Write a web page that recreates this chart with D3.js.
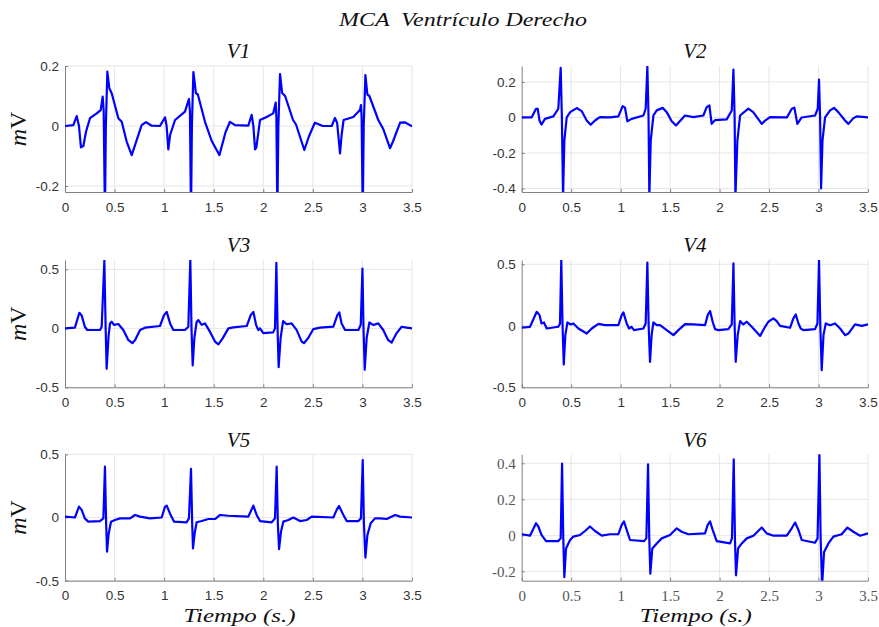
<!DOCTYPE html>
<html>
<head>
<meta charset="utf-8">
<script src="https://cdn.jsdelivr.net/npm/d3@7"></script>
<style>
  html, body { margin: 0; padding: 0; background: #fff; }
  svg { display: block; }
  .axis .tick text { font-family: "Liberation Sans", Arial, sans-serif; font-size: 13.5px; fill: #333; }
  .axis.serif .tick text { font-family: "Liberation Serif", serif; font-size: 15px; fill: #555; }
  .axis path, .axis line { stroke: #808080; }
  .ttl { font-family: "Liberation Serif", serif; font-style: italic; font-weight: normal; fill: #111; white-space: pre; }
</style>
</head>
<body>
<svg id="chart"></svg>
<script>
// ECG leads, [tiempo (s), mV]
const LEADS = ["V1", "V2", "V3", "V4", "V5", "V6"];

const v1 = [[0,0],[0.084,0.003],[0.118,0.033],[0.141,0],[0.161,-0.071],[0.185,-0.067],[0.212,-0.019],[0.252,0.026],[0.32,0.042],[0.36,0.053],[0.38,0.098],[0.39,0.05],[0.403,-0.3],[0.412,0],[0.427,0.181],[0.447,0.126],[0.471,0.109],[0.538,0.026],[0.572,0.014],[0.622,-0.052],[0.673,-0.097],[0.723,-0.047],[0.773,0.003],[0.817,0.013],[0.874,0.001],[0.958,0],[1.009,0.029],[1.025,0],[1.042,-0.078],[1.06,-0.03],[1.11,0.02],[1.21,0.048],[1.25,0.09],[1.26,0.05],[1.271,-0.3],[1.28,0],[1.295,0.18],[1.32,0.11],[1.34,0.105],[1.412,0.014],[1.48,-0.05],[1.557,-0.097],[1.62,-0.02],[1.664,0.014],[1.715,0.003],[1.849,0.001],[1.883,0.037],[1.9,0],[1.917,-0.078],[1.93,-0.072],[1.967,0.02],[2.034,0.03],[2.1,0.042],[2.125,0.078],[2.132,0.03],[2.142,-0.3],[2.152,0],[2.169,0.173],[2.19,0.11],[2.22,0.1],[2.3,0.02],[2.33,0.005],[2.414,-0.08],[2.46,-0.035],[2.52,0.011],[2.6,0],[2.69,0],[2.723,0.027],[2.745,0.01],[2.774,-0.091],[2.79,-0.03],[2.81,0.02],[2.908,0.03],[2.975,0.053],[2.985,0.07],[2.992,0.03],[3.003,-0.3],[3.013,0],[3.03,0.17],[3.05,0.105],[3.07,0.1],[3.16,0.02],[3.21,-0.01],[3.278,-0.074],[3.31,-0.05],[3.38,0.011],[3.43,0.012],[3.5,-0.001]];

const v2 = [[0,0],[0.1,0],[0.145,0.049],[0.162,0.048],[0.18,-0.017],[0.2,-0.04],[0.235,-0.008],[0.32,0.006],[0.37,0.049],[0.394,0.28],[0.406,0],[0.418,-0.45],[0.431,-0.13],[0.455,0],[0.49,0.03],[0.556,0.053],[0.606,0.036],[0.657,-0.017],[0.697,-0.041],[0.741,-0.017],[0.79,0.002],[0.893,0],[0.977,0.006],[1.02,0.064],[1.044,0.055],[1.068,-0.021],[1.112,-0.008],[1.23,0.011],[1.253,0.049],[1.27,0.289],[1.282,0],[1.29,-0.45],[1.304,-0.13],[1.331,0.011],[1.365,0.04],[1.425,0.054],[1.466,0.03],[1.516,-0.021],[1.56,-0.045],[1.6,-0.02],[1.651,0.011],[1.735,0.002],[1.836,0.011],[1.87,0.058],[1.897,0.068],[1.92,-0.036],[1.954,-0.015],[2.072,-0.011],[2.123,0.039],[2.14,0.27],[2.152,0],[2.16,-0.45],[2.18,-0.13],[2.207,0.011],[2.29,0.05],[2.34,0.03],[2.426,-0.036],[2.46,-0.018],[2.51,0.002],[2.68,0],[2.73,0.049],[2.756,0.055],[2.786,-0.036],[2.83,0],[2.965,0.011],[2.992,0.049],[3.005,0.214],[3.016,0],[3.026,-0.4],[3.04,-0.13],[3.066,0],[3.117,0.04],[3.157,0.054],[3.2,0.03],[3.268,-0.017],[3.302,-0.036],[3.35,-0.005],[3.386,0.006],[3.5,0]];

const v3 = [[0,0],[0.1,0.006],[0.145,0.132],[0.168,0.11],[0.2,0.014],[0.225,-0.014],[0.27,-0.014],[0.353,-0.014],[0.37,0.014],[0.397,0.576],[0.41,0],[0.42,-0.343],[0.44,-0.06],[0.454,0.042],[0.47,0.056],[0.494,0.03],[0.538,0.037],[0.588,-0.014],[0.64,-0.1],[0.68,-0.126],[0.706,-0.1],[0.757,-0.014],[0.807,0.006],[0.958,0.02],[0.999,0.112],[1.026,0.14],[1.06,0.042],[1.093,-0.014],[1.21,-0.014],[1.244,0.014],[1.264,0.58],[1.276,0],[1.288,-0.315],[1.305,-0.08],[1.328,0.056],[1.345,0.07],[1.379,0.03],[1.412,0.042],[1.463,-0.03],[1.513,-0.112],[1.547,-0.135],[1.59,-0.085],[1.648,0],[1.698,0.008],[1.833,0.02],[1.873,0.112],[1.9,0.14],[1.927,0.03],[1.95,-0.014],[1.967,0],[2,-0.04],[2.1,-0.034],[2.118,0],[2.132,0.556],[2.144,0],[2.155,-0.33],[2.175,-0.08],[2.2,0.062],[2.236,0.035],[2.286,0.042],[2.337,-0.015],[2.387,-0.112],[2.41,-0.126],[2.455,-0.08],[2.505,-0.006],[2.572,0.006],[2.707,0.014],[2.747,0.112],[2.767,0.135],[2.79,0.042],[2.825,-0.014],[2.959,-0.014],[2.983,0.03],[3,0.506],[3.011,0],[3.023,-0.351],[3.043,-0.08],[3.07,0.05],[3.11,0.028],[3.16,0.042],[3.21,-0.014],[3.26,-0.1],[3.295,-0.12],[3.345,-0.04],[3.396,0.014],[3.447,0.006],[3.5,0]];

const v4 = [[0,-0.016],[0.084,-0.008],[0.152,0.114],[0.18,0.087],[0.2,0.019],[0.225,0.027],[0.253,-0.022],[0.37,-0.008],[0.387,0.019],[0.4,0.535],[0.413,0],[0.425,-0.315],[0.441,-0.076],[0.462,0.027],[0.495,0.011],[0.522,0.019],[0.573,-0.022],[0.657,-0.063],[0.708,-0.022],[0.775,0.016],[0.842,0.005],[0.977,0.005],[1.011,0.087],[1.028,0.109],[1.061,0.019],[1.085,-0.022],[1.11,-0.008],[1.135,-0.035],[1.23,-0.022],[1.253,0.019],[1.27,0.514],[1.283,0],[1.297,-0.293],[1.313,-0.076],[1.331,0.027],[1.365,0.005],[1.398,0.005],[1.466,-0.035],[1.533,-0.076],[1.584,-0.035],[1.651,0.014],[1.735,0.011],[1.853,0.005],[1.88,0.087],[1.904,0.12],[1.93,0.033],[1.954,-0.027],[1.988,-0.035],[2.089,-0.027],[2.123,0.011],[2.14,0.508],[2.152,0],[2.163,-0.293],[2.183,-0.076],[2.207,0.038],[2.24,0.011],[2.274,0.033],[2.325,-0.008],[2.41,-0.082],[2.46,-0.008],[2.493,0.033],[2.544,0.06],[2.577,0.038],[2.611,0],[2.712,-0.016],[2.746,0.06],[2.77,0.092],[2.797,0.019],[2.82,-0.022],[2.847,-0.035],[2.965,-0.027],[2.989,0.019],[3.005,0.535],[3.018,0],[3.032,-0.361],[3.05,-0.076],[3.073,0.019],[3.117,0.005],[3.167,0.019],[3.218,-0.022],[3.268,-0.076],[3.302,-0.063],[3.369,0.011],[3.437,0],[3.5,0.011]];

const v5 = [[0,0.007],[0.1,0],[0.141,0.086],[0.168,0.06],[0.2,-0.007],[0.235,-0.033],[0.353,-0.028],[0.387,-0.007],[0.403,0.402],[0.415,-0.05],[0.424,-0.27],[0.44,-0.13],[0.464,-0.033],[0.504,-0.02],[0.555,-0.007],[0.656,-0.007],[0.706,0.02],[0.757,0.007],[0.857,-0.007],[0.975,0],[1.009,0.086],[1.026,0.094],[1.06,0.03],[1.1,-0.033],[1.227,-0.038],[1.25,-0.007],[1.271,0.384],[1.283,-0.05],[1.291,-0.244],[1.308,-0.125],[1.328,-0.038],[1.379,-0.028],[1.446,-0.012],[1.513,-0.012],[1.564,0.02],[1.648,0.014],[1.849,0.007],[1.9,0.094],[1.933,0.02],[1.967,-0.028],[2.085,-0.038],[2.118,-0.007],[2.135,0.402],[2.147,-0.05],[2.159,-0.25],[2.179,-0.11],[2.202,-0.033],[2.253,-0.02],[2.303,0],[2.37,-0.028],[2.438,-0.02],[2.488,0.007],[2.707,0],[2.74,0.06],[2.764,0.091],[2.808,0.02],[2.841,-0.028],[2.959,-0.028],[2.985,-0.007],[3.003,0.455],[3.015,-0.05],[3.03,-0.317],[3.05,-0.14],[3.083,-0.046],[3.127,-0.007],[3.178,-0.007],[3.245,-0.012],[3.329,0.02],[3.38,0.007],[3.5,0]];

const v6 = [[0,0.006],[0.084,-0.002],[0.145,0.067],[0.168,0.049],[0.2,0.002],[0.246,-0.032],[0.37,-0.032],[0.394,-0.017],[0.408,0.398],[0.42,-0.01],[0.431,-0.232],[0.448,-0.073],[0.489,-0.026],[0.522,-0.007],[0.59,0.002],[0.64,0.024],[0.69,0.049],[0.741,0.024],[0.809,-0.002],[0.893,0.006],[0.977,0.006],[1.011,0.058],[1.034,0.077],[1.061,0.03],[1.095,-0.026],[1.237,-0.032],[1.26,-0.017],[1.277,0.394],[1.289,-0.01],[1.3,-0.213],[1.32,-0.073],[1.365,-0.045],[1.415,-0.017],[1.499,0.002],[1.567,0.039],[1.617,0.02],[1.685,0.006],[1.853,0.011],[1.88,0.058],[1.904,0.077],[1.93,0.03],[1.971,-0.032],[2.106,-0.045],[2.125,-0.017],[2.143,0.422],[2.155,-0.01],[2.166,-0.222],[2.187,-0.073],[2.224,-0.045],[2.274,-0.017],[2.342,-0.002],[2.426,0.043],[2.476,0.011],[2.544,-0.002],[2.679,-0.002],[2.729,0.039],[2.763,0.071],[2.797,0.03],[2.83,-0.026],[2.965,-0.041],[2.99,-0.017],[3.009,0.454],[3.021,-0.01],[3.036,-0.28],[3.056,-0.092],[3.1,-0.045],[3.15,-0.007],[3.234,0.006],[3.292,0.043],[3.352,0.02],[3.42,-0.002],[3.5,0.011]];

const SERIES = [v1, v2, v3, v4, v5, v6];

const X_DOMAIN = [0, 3.5];
const X_TICKS = [0, 0.5, 1, 1.5, 2, 2.5, 3, 3.5];
const Y_DOMAINS = [[-0.22, 0.2], [-0.42, 0.29], [-0.5, 0.58], [-0.5, 0.535], [-0.5, 0.5], [-0.252, 0.45]];
const Y_TICKS = [[-0.2, 0, 0.2], [-0.4, -0.2, 0, 0.2], [-0.5, 0, 0.5], [-0.5, 0, 0.5], [-0.5, 0, 0.5], [-0.2, 0, 0.2, 0.4]];

const TITLE = "MCA  Ventrículo Derecho";
const X_LABEL = "Tiempo (s.)";

// ---- layout ----
const W = 879, H = 627;
const COLS = [[65, 412], [521.7, 868]];
const ROWS = [[66, 192], [260, 387.3], [454.3, 580.7]];
const TITLE_BASE = [58, 252, 446.7];

const svg = d3.select("#chart").attr("width", W).attr("height", H);

svg.append("text").attr("class", "ttl")
  .attr("x", 463).attr("y", 26)
  .attr("text-anchor", "middle")
  .attr("textLength", 248).attr("lengthAdjust", "spacingAndGlyphs")
  .style("font-size", "18px")
  .text(TITLE);

const fmt = d => String(d);

LEADS.forEach((lead, i) => {
  const col = i % 2, row = Math.floor(i / 2);
  const [x0, x1] = COLS[col];
  const [y0, y1] = ROWS[row];

  const x = d3.scaleLinear().domain(X_DOMAIN).range([x0, x1]);
  const y = d3.scaleLinear().domain(Y_DOMAINS[i]).range([y1, y0]);

  const g = svg.append("g");

  // grid (light)
  g.append("g").selectAll("line")
    .data(X_TICKS.filter(d => d > 0))
    .join("line")
    .attr("x1", d => x(d)).attr("x2", d => x(d))
    .attr("y1", y0).attr("y2", y1)
    .attr("stroke", "#e6e6e6").attr("stroke-width", 1);
  g.append("g").selectAll("line")
    .data(Y_TICKS[i])
    .join("line")
    .attr("x1", x0).attr("x2", x1)
    .attr("y1", d => y(d)).attr("y2", d => y(d))
    .attr("stroke", "#e6e6e6").attr("stroke-width", 1);

  // axes (left + bottom, ticks inward)
  const serif = i === 5 ? " serif" : "";
  g.append("g").attr("class", "axis" + serif)
    .attr("transform", `translate(0,${y1})`)
    .call(d3.axisBottom(x).tickValues(X_TICKS).tickFormat(fmt).tickSizeInner(-3).tickSizeOuter(0).tickPadding(10));
  g.append("g").attr("class", "axis" + serif)
    .attr("transform", `translate(${x0},0)`)
    .call(d3.axisLeft(y).tickValues(Y_TICKS[i]).tickFormat(fmt).tickSizeInner(-3).tickSizeOuter(0).tickPadding(6));

  // trace
  const clipId = "clip-" + lead;
  svg.append("clipPath").attr("id", clipId)
    .append("rect").attr("x", x0).attr("y", y0).attr("width", x1 - x0).attr("height", y1 - y0);

  const line = d3.line().x(d => x(d[0])).y(d => y(d[1])).curve(d3.curveLinear);
  g.append("path")
    .datum(SERIES[i])
    .attr("clip-path", `url(#${clipId})`)
    .attr("fill", "none")
    .attr("stroke", "#0000ff")
    .attr("stroke-width", 2.2)
    .attr("stroke-linejoin", "round")
    .attr("d", line);

  // panel title
  g.append("text").attr("class", "ttl")
    .attr("x", (x0 + x1) / 2).attr("y", TITLE_BASE[row])
    .attr("text-anchor", "middle")
    .style("font-size", "21px")
    .text(lead);

  // y label (m italic, V upright) on left column
  if (col === 0) {
    const t = g.append("text").attr("class", "ttl")
      .attr("transform", `translate(26,${(y0 + y1) / 2}) rotate(-90)`)
      .attr("text-anchor", "middle")
      .style("font-size", "24px");
    t.append("tspan").text("m");
    t.append("tspan").style("font-style", "normal").text("V");
  }

  // x label on bottom row
  if (row === 2) {
    g.append("text").attr("class", "ttl")
      .attr("x", (x0 + x1) / 2 + 1).attr("y", 622)
      .attr("text-anchor", "middle")
      .attr("textLength", 112).attr("lengthAdjust", "spacingAndGlyphs")
      .style("font-size", "19px")
      .text(X_LABEL);
  }
});
</script>
</body>
</html>
